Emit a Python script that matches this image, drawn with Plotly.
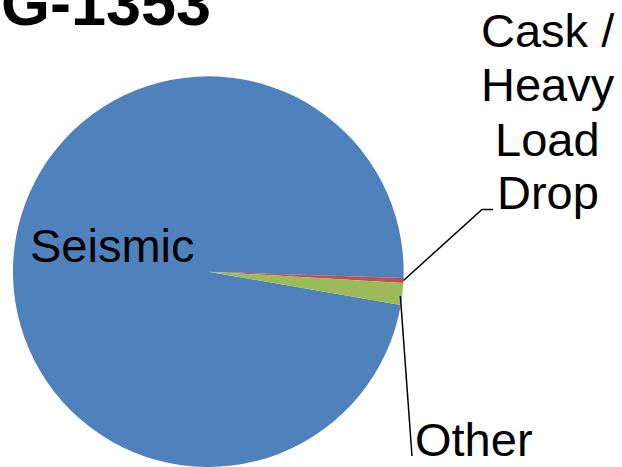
import math
import plotly.graph_objects as go

# Share of risk by initiating event
categories = ["Seismic", "Cask / Heavy Load Drop", "Other"]
shares = [97.8, 0.4, 1.8]
colors = ["#4F81BD", "#C0504D", "#9BBB59"]
title_text = "G-1353"

W, H = 622, 467
FONT = "Liberation Sans, Arial, sans-serif"
LABEL_SIZE = 47
START_ANGLE = 99.8  # degrees clockwise from 12 o'clock

# pie domain in pixels (left, right, top, bottom)
dom_px = (12.3, 404.3, 76.3, 467.0)


def px(x):
    return x / W


def py(y):
    return 1 - y / H


cx = (dom_px[0] + dom_px[1]) / 2
cy = (dom_px[2] + dom_px[3]) / 2
r = min(dom_px[1] - dom_px[0], dom_px[3] - dom_px[2]) / 2


def rim_point(angle_deg):
    a = math.radians(angle_deg)
    return cx + r * math.sin(a), cy - r * math.cos(a)


# mid angles of each slice, clockwise from the start angle
total = sum(shares)
mid_angles = []
acc = START_ANGLE
for v in shares:
    span = 360 * v / total
    mid_angles.append(acc + span / 2)
    acc += span

fig = go.Figure(
    go.Pie(
        labels=categories,
        values=shares,
        sort=False,
        direction="clockwise",
        rotation=START_ANGLE,
        marker=dict(colors=colors, line=dict(width=0)),
        textinfo="none",
        hoverinfo="label+percent",
        showlegend=False,
        domain=dict(x=[px(dom_px[0]), px(dom_px[1])], y=[py(dom_px[3]), py(dom_px[2])]),
    )
)


def text_at(text, x, baseline, size, anchor="left", bold=False):
    shown = f"<b>{text}</b>" if bold else text
    fig.add_annotation(
        text=shown,
        x=px(x),
        y=py(baseline - 0.3465 * size),
        xref="paper",
        yref="paper",
        xanchor=anchor,
        yanchor="middle",
        showarrow=False,
        font=dict(family=FONT, size=size, color="#000000"),
    )


# title, partly above the top edge
text_at(title_text, -1, 25, 63, bold=True)

# slice labels
text_at(categories[0], 28, 261.7, LABEL_SIZE)

cask_lines = ["Cask /", "Heavy", "Load", "Drop"]
cask_baselines = [47, 101, 155.5, 209]
for line, b in zip(cask_lines, cask_baselines):
    text_at(line, 547.5, b, LABEL_SIZE, anchor="center")

text_at(categories[2], 413, 456, LABEL_SIZE)

# leader lines
x0, y0 = rim_point(mid_angles[1])
fig.add_shape(
    type="path",
    path=f"M {px(x0)},{py(y0)} L {px(482)},{py(209.5)} L {px(493)},{py(209.5)}",
    xref="paper", yref="paper",
    line=dict(color="#000000", width=1.5),
)
x1, y1 = rim_point(mid_angles[2])
fig.add_shape(
    type="line",
    x0=px(x1 - 2), y0=py(y1 + 2), x1=px(412), y1=py(456),
    xref="paper", yref="paper",
    line=dict(color="#000000", width=1.5),
)

fig.update_layout(
    width=W,
    height=H,
    margin=dict(l=0, r=0, t=0, b=0),
    paper_bgcolor="#FFFFFF",
    plot_bgcolor="#FFFFFF",
)

fig.write_html("out.html")
